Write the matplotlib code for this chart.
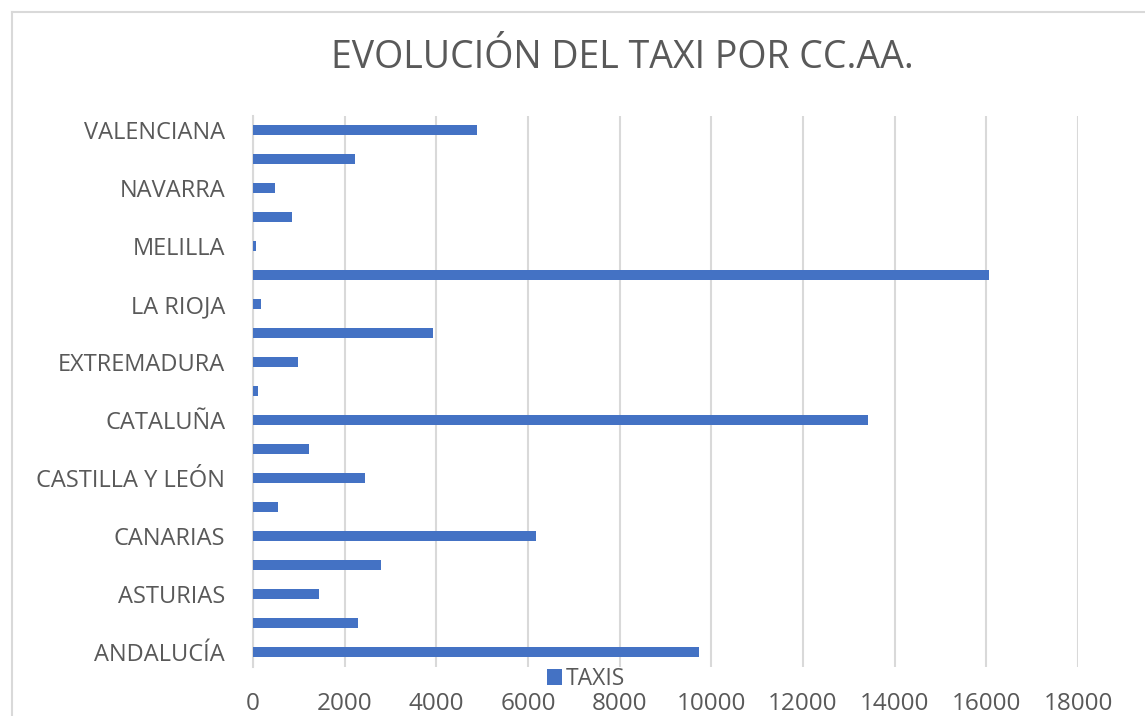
import matplotlib
matplotlib.use("Agg")
import matplotlib.pyplot as plt
from matplotlib.lines import Line2D

categories = ["ANDALUCÍA", "ARAGÓN", "ASTURIAS", "BALEARES", "CANARIAS", "CANTABRIA",
              "CASTILLA Y LEÓN", "CASTILLA-LA MANCHA", "CATALUÑA", "CEUTA", "EXTREMADURA",
              "GALICIA", "LA RIOJA", "MADRID", "MELILLA", "MURCIA", "NAVARRA",
              "PAÍS VASCO", "VALENCIANA"]
taxis = [9720, 2300, 1440, 2790, 6170, 550, 2450, 1220, 13410, 110, 990,
         3930, 170, 16050, 65, 850, 470, 2230, 4880]
xticks = [0, 2000, 4000, 6000, 8000, 10000, 12000, 14000, 16000, 18000]

plt.rcParams['font.family'] = ['Open Sans', 'DejaVu Sans']
txt = '#595959'
W, H = 1145, 716
fig = plt.figure(figsize=(W / 100, H / 100), dpi=100)
ax = fig.add_axes([253 / W, 49.5 / H, 825 / W, 551 / H])

ypos = list(range(len(categories)))
ax.barh(ypos, taxis, height=0.37, color='#4472C4', label='TAXIS', zorder=3)
ax.set_xlim(0, 18000)
ax.set_ylim(-0.5, len(categories) - 0.5)
ax.set_xticks(xticks)
ax.set_xticklabels([str(v) for v in xticks])
ax.set_yticks(ypos[::2])
ax.set_yticklabels(categories[::2])
ax.tick_params(axis='y', length=0, pad=20, labelsize=17, labelcolor=txt)
ax.tick_params(axis='x', length=0, pad=18, labelsize=17.5, labelcolor=txt)
ax.grid(axis='x', color='#d9d9d9', linewidth=1.5, zorder=0)
for s in ['top', 'right', 'bottom']:
    ax.spines[s].set_visible(False)
ax.spines['left'].set_color('#d9d9d9')
ax.spines['left'].set_linewidth(1.5)

fig.text(622 / W, 1 - 58 / H, "EVOLUCIÓN DEL TAXI POR CC.AA.", ha='center', va='center',
         fontsize=27, color=txt)

fig.legend(loc='center', bbox_to_anchor=(586 / W, 1 - 679 / H), frameon=False,
           fontsize=16.5, labelcolor=txt, handlelength=0.65, handleheight=0.65,
           handletextpad=0.2, borderpad=0)

fig.add_artist(Line2D([12 / W, 1], [1 - 12 / H, 1 - 12 / H], color='#d9d9d9', lw=1.5,
                      transform=fig.transFigure))
fig.add_artist(Line2D([12 / W, 12 / W], [0, 1 - 12 / H], color='#d9d9d9', lw=1.5,
                      transform=fig.transFigure))

fig.savefig("out.png", dpi=100)
